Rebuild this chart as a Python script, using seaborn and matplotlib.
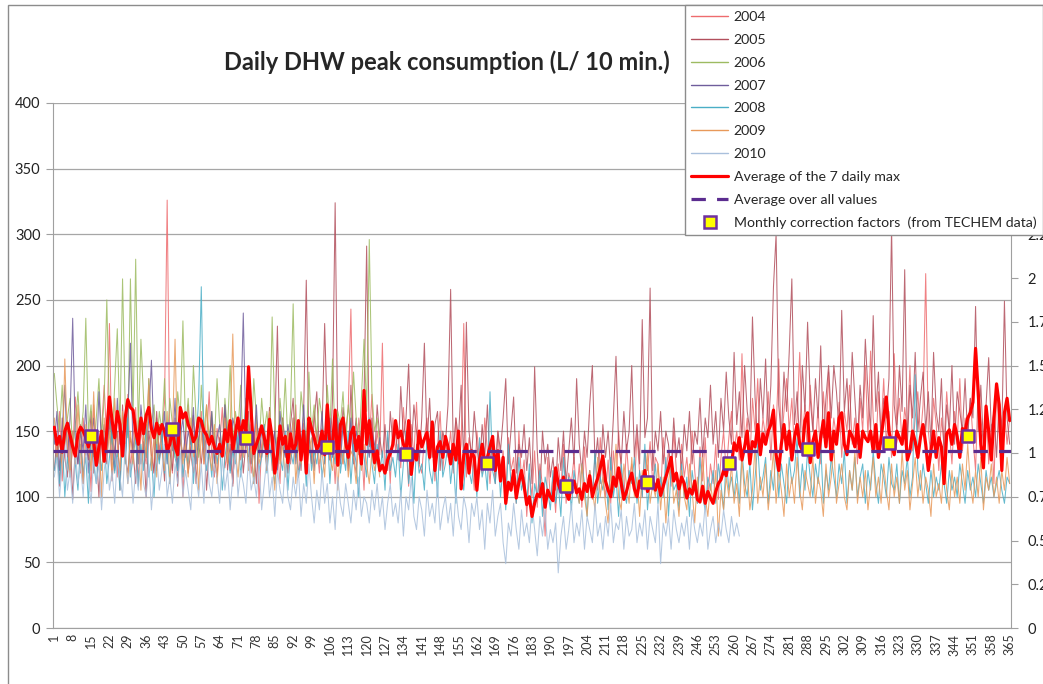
import numpy as np
import pandas as pd
import matplotlib
matplotlib.use("Agg")
import matplotlib.pyplot as plt
import seaborn as sns
from matplotlib.lines import Line2D
from matplotlib.patches import Rectangle
from matplotlib.ticker import FuncFormatter

sns.set_style("white")
plt.rcParams['font.family'] = ['Lato', 'DejaVu Sans']

# Daily peak values (L / 10 min) (estimates)
y2004 = [150, 128, 165, 112, 140, 158, 120, 135, 176, 142,
         118, 160, 132, 145, 104, 170, 138, 125, 150, 185,
         140, 232, 128, 150, 115, 162, 140, 130, 178, 120,
         145, 168, 110, 152, 136, 125, 190, 142, 118, 160,
         135, 150, 172, 326, 140, 118, 155, 128, 162, 100,
         145, 170, 132, 118, 150, 138, 165, 125, 142, 180,
         130, 115, 152, 140, 168, 122, 135, 158, 110, 145,
         160, 128, 140, 175, 150, 118, 135, 162, 95, 140,
         155, 130, 168, 120, 145, 138, 110, 160, 132, 150,
         125, 142, 170, 115, 138, 156, 120, 148, 130, 165,
         140, 118, 152, 135, 172, 128, 145, 110, 158, 138,
         125, 150, 168, 243, 130, 118, 160, 142, 105, 155,
         140, 178, 125, 150, 132, 217, 120, 145, 110, 160,
         135, 150, 122, 168, 140, 108, 155, 130, 172, 125,
         118, 145, 160, 128, 150, 112, 138, 165, 120, 142,
         130, 150, 118, 160, 125, 140, 232, 115, 145, 132,
         105, 150, 128, 118, 160, 135, 110, 142, 125, 150,
         118, 135, 102, 145, 120, 130, 95, 150, 112, 128,
         85, 118, 100, 135, 92, 125, 108, 70, 130, 98,
         115, 88, 125, 105, 140, 95, 118, 110, 130, 100,
         125, 92, 138, 110, 120, 98, 132, 105, 145, 115,
         100, 128, 95, 135, 110, 150, 120, 98, 140, 112,
         125, 105, 148, 118, 100, 135, 120, 142, 110, 130,
         125, 100, 145, 118, 135, 108, 150, 120, 98, 140,
         115, 130, 105, 150, 120, 95, 138, 112, 145, 100,
         125, 110, 140, 98, 130, 150, 118, 145, 165, 135,
         150, 128, 209, 140, 160, 125, 175, 150, 190, 135,
         160, 145, 180, 128, 170, 150, 205, 140, 165, 190,
         150, 175, 135, 160, 210, 145, 170, 130, 185, 155,
         140, 168, 125, 180, 150, 195, 138, 160, 145, 172,
         130, 165, 150, 185, 140, 160, 125, 175, 150, 200,
         145, 211, 160, 135, 180, 150, 190, 140, 165, 130,
         209, 155, 175, 140, 168, 150, 200, 135, 160, 180,
         145, 170, 270, 150, 130, 175, 155, 120, 160, 140,
         180, 150, 125, 165, 140, 190, 135, 160, 150, 175,
         145, 120, 185, 160, 140, 170, 125, 155, 110, 180,
         150, 135, 165, 140, 160]

y2005 = [120, 145, 108, 160, 130, 115, 150, 98, 138, 125,
         155, 110, 140, 128, 165, 118, 135, 100, 150, 142,
         125, 160, 112, 138, 150, 105, 170, 130, 118, 145,
         135, 110, 158, 125, 142, 100, 150, 132, 118, 165,
         128, 140, 112, 155, 135, 120, 160, 108, 145, 130,
         150, 118, 135, 162, 110, 140, 125, 150, 105, 138,
         160, 128, 115, 145, 132, 170, 120, 140, 108, 155,
         135, 150, 118, 142, 165, 125, 138, 110, 152, 130,
         145, 120, 168, 135, 150, 230, 128, 160, 140, 118,
         155, 175, 130, 148, 120, 165, 265, 140, 125, 158,
         180, 135, 150, 232, 160, 128, 175, 324, 145, 130,
         168, 150, 120, 185, 140, 160, 132, 150, 175, 291,
         138, 160, 125, 170, 145, 130, 155, 120, 165, 140,
         150, 128, 184, 145, 160, 201, 135, 170, 150, 125,
         160, 217, 140, 175, 130, 155, 165, 120, 150, 140,
         170, 258, 135, 160, 145, 185, 125, 233, 150, 130,
         165, 140, 118, 155, 130, 170, 125, 145, 110, 150,
         135, 160, 190, 125, 150, 176, 118, 140, 130, 155,
         120, 145, 110, 199, 135, 100, 150, 125, 140, 115,
         130, 105, 145, 120, 150, 110, 135, 160, 125, 190,
         140, 118, 150, 130, 170, 200, 125, 145, 110, 155,
         130, 150, 120, 160, 207, 140, 125, 165, 135, 150,
         200, 130, 155, 125, 235, 145, 160, 259, 120, 150,
         135, 165, 125, 150, 140, 118, 160, 130, 145, 120,
         155, 135, 165, 125, 150, 140, 175, 130, 160, 145,
         185, 140, 165, 130, 175, 150, 195, 160, 140, 210,
         155, 180, 145, 200, 165, 150, 237, 175, 140, 190,
         160, 205, 150, 185, 260, 300, 170, 145, 195, 165,
         210, 266, 155, 180, 140, 200, 165, 233, 175, 150,
         190, 160, 215, 145, 175, 200, 160, 200, 180, 150,
         242, 165, 190, 150, 210, 175, 140, 185, 160, 220,
         180, 150, 238, 165, 195, 140, 175, 160, 190, 305,
         170, 150, 200, 165, 273, 140, 185, 160, 210, 150,
         175, 195, 150, 180, 140, 210, 165, 150, 190, 130,
         170, 150, 200, 140, 180, 165, 150, 190, 145, 175,
         160, 245, 150, 185, 140, 170, 206, 150, 165, 130,
         175, 150, 249, 160, 140]

y2006 = [194, 170, 150, 185, 140, 160, 175, 135, 155, 180,
         145, 165, 236, 150, 170, 130, 160, 190, 145, 175,
         250, 160, 140, 185, 228, 150, 266, 170, 145, 266,
         160, 281, 150, 220, 175, 140, 190, 155, 170, 135,
         165, 150, 190, 140, 175, 155, 130, 180, 160, 234,
         150, 175, 140, 200, 160, 130, 185, 150, 170, 145,
         165, 140, 190, 155, 130, 175, 150, 200, 140, 165,
         150, 185, 135, 170, 155, 140, 190, 160, 135, 175,
         150, 165, 140, 237, 160, 130, 175, 150, 190, 140,
         165, 247, 150, 135, 180, 160, 140, 195, 150, 170,
         145, 175, 160, 130, 185, 150, 205, 140, 165, 155,
         180, 140, 170, 150, 195, 160, 135, 175, 220, 165,
         296, 180, 150, 160, 140]

y2007 = [140, 165, 120, 150, 185, 130, 160, 236, 145, 125,
         150, 135, 170, 118, 145, 160, 125, 180, 140, 155,
         130, 165, 145, 120, 175, 140, 150, 128, 160, 217,
         135, 150, 125, 170, 145, 130, 160, 204, 140, 120,
         155, 140, 165, 125, 150, 135, 175, 120, 145, 160,
         130, 150, 140, 168, 125, 145, 160, 130, 150, 138,
         165, 125, 145, 155, 130, 170, 140, 120, 160, 150,
         135, 160, 240, 145, 125, 155, 140, 170, 130, 150,
         145, 125, 160, 135, 150, 120, 165, 140, 130, 155,
         140, 160, 125, 150, 135, 170, 130, 145, 155, 120,
         150, 135, 165, 125, 145, 160, 130, 150, 140, 125,
         155, 140, 130, 160, 125, 150, 140, 135, 160, 145,
         130, 150, 140, 125, 145]

y2008 = [120, 135, 110, 145, 100, 130, 115, 150, 125, 105,
         140, 118, 130, 95, 150, 125, 110, 138, 120, 145,
         110, 130, 150, 118, 135, 105, 145, 125, 160, 115,
         130, 145, 108, 140, 120, 155, 115, 130, 100, 140,
         125, 150, 118, 135, 110, 145, 130, 120, 160, 115,
         135, 125, 150, 110, 140, 175, 260, 140, 120, 135,
         115, 150, 125, 140, 105, 130, 145, 118, 135, 125,
         150, 115, 140, 175, 125, 135, 110, 145, 120, 130,
         155, 118, 140, 125, 110, 145, 130, 120, 150, 105,
         135, 125, 145, 115, 130, 140, 108, 150, 120, 135,
         125, 145, 115, 130, 150, 110, 140, 125, 160, 118,
         135, 120, 150, 110, 140, 125, 100, 145, 130, 115,
         160, 125, 110, 140, 118, 135, 105, 150, 120, 130,
         115, 140, 100, 125, 150, 110, 130, 95, 140, 118,
         125, 105, 145, 120, 110, 135, 100, 150, 115, 125,
         140, 110, 130, 95, 145, 118, 105, 135, 120, 110,
         130, 100, 145, 115, 125, 105, 180, 120, 110, 135,
         100, 125, 90, 140, 110, 120, 95, 130, 105, 115,
         95, 125, 80, 110, 100, 120, 85, 115, 105, 90,
         120, 95, 110, 85, 130, 100, 115, 90, 120, 105,
         95, 125, 110, 85, 120, 100, 135, 95, 115, 105,
         120, 90, 130, 100, 115, 85, 125, 105, 95, 120,
         110, 130, 95, 120, 100, 140, 90, 115, 105, 125,
         95, 115, 100, 130, 85, 120, 105, 110, 90, 125,
         100, 115, 85, 120, 105, 95, 130, 100, 90, 115,
         105, 120, 95, 125, 110, 90, 130, 105, 115, 100,
         120, 95, 135, 110, 100, 125, 90, 115, 140, 105,
         115, 130, 95, 120, 105, 140, 100, 125, 110, 95,
         130, 110, 120, 145, 100, 125, 105, 135, 115, 100,
         125, 110, 140, 95, 120, 105, 130, 115, 100, 125,
         110, 135, 95, 120, 105, 130, 100, 115, 125, 95,
         120, 105, 135, 110, 95, 125, 115, 100, 130, 110,
         105, 125, 95, 120, 110, 130, 100, 115, 193, 120,
         105, 125, 110, 95, 120, 100, 115, 105, 125, 110,
         95, 120, 105, 115, 100, 125, 110, 95, 120, 105,
         115, 100, 125, 110, 95, 120, 105, 115, 100, 110,
         120, 105, 95, 115, 110]

# 2009 has two recorded stretches: days 1-125 and days 200-365
y2009_start = [160, 130, 145, 120, 205, 140, 115, 150, 125, 170,
               135, 110, 155, 140, 120, 180, 125, 145, 100, 160,
               130, 150, 115, 175, 140, 120, 165, 135, 110, 150,
               125, 160, 140, 105, 150, 130, 185, 120, 145, 115,
               155, 135, 120, 165, 110, 145, 220, 130, 150, 125,
               140, 115, 160, 130, 145, 105, 150, 125, 170, 135,
               120, 155, 110, 140, 130, 160, 125, 150, 224, 135,
               115, 145, 130, 160, 120, 140, 110, 155, 125, 135,
               150, 120, 165, 130, 105, 145, 125, 140, 115, 150,
               130, 160, 110, 140, 125, 150, 120, 135, 145, 110,
               150, 125, 135, 115, 160, 130, 120, 145, 105, 140,
               125, 150, 115, 135, 130, 110, 145, 120, 140, 125,
               110, 135, 120, 130, 115]
y2009_end = [110, 95, 125, 100, 85, 120, 105, 90, 130, 100,
             115, 95, 80, 120, 105, 140, 100, 90, 125, 110,
             95, 130, 100, 115, 85, 120, 105, 135, 95, 110,
             100, 125, 90, 115, 80, 110, 130, 95, 105, 85,
             120, 100, 90, 125, 105, 80, 115, 95, 130, 100,
             85, 110, 95, 120, 70, 105, 90, 115, 100, 125,
             95, 110, 85, 130, 100, 120, 90, 105, 140, 95,
             115, 100, 125, 90, 110, 135, 95, 120, 105, 85,
             125, 100, 115, 95, 130, 105, 90, 120, 110, 100,
             130, 95, 115, 105, 85, 125, 100, 115, 140, 95,
             110, 125, 100, 90, 120, 105, 135, 95, 115, 100,
             120, 90, 110, 130, 100, 115, 95, 125, 105, 90,
             125, 100, 115, 95, 135, 105, 120, 90, 110, 130,
             100, 120, 95, 115, 105, 85, 125, 100, 110, 95,
             130, 105, 90, 120, 100, 115, 95, 125, 105, 140,
             110, 95, 120, 100, 130, 90, 115, 105, 125, 100,
             115, 95, 120, 105, 130, 110]

y2010 = [115, 130, 100, 125, 140, 105, 120, 95, 135, 110,
         125, 100, 140, 115, 95, 130, 110, 125, 90, 120,
         135, 105, 120, 95, 130, 115, 100, 140, 110, 125,
         95, 120, 105, 135, 110, 100, 125, 90, 115, 130,
         105, 120, 140, 100, 115, 95, 125, 110, 135, 100,
         120, 105, 90, 130, 115, 100, 125, 95, 140, 110,
         100, 125, 115, 95, 130, 105, 120, 90, 115, 135,
         100, 120, 110, 95, 130, 105, 115, 100, 125, 90,
         110, 130, 100, 115, 85, 120, 105, 95, 125, 100,
         90, 115, 100, 120, 85, 110, 95, 125, 100, 80,
         105, 90, 120, 95, 110, 80, 100, 75, 115, 95,
         85, 110, 95, 80, 105, 90, 115, 85, 100, 95,
         80, 105, 90, 110, 85, 100, 75, 95, 110, 85,
         95, 80, 105, 70, 100, 90, 115, 85, 75, 100,
         90, 70, 105, 85, 95, 80, 110, 75, 90, 100,
         80, 95, 70, 105, 85, 75, 100, 90, 65, 95,
         85, 100, 75, 90, 60, 95, 80, 105, 70, 85,
         95, 65, 49, 80, 70, 95, 75, 60, 90, 70,
         80, 65, 95, 75, 55, 85, 70, 90, 60, 75,
         65, 80, 42, 70, 85, 60, 75, 95, 65, 80,
         70, 90, 60, 85, 75, 65, 95, 70, 80, 60,
         85, 70, 95, 65, 80, 75, 90, 60, 85, 70,
         75, 95, 65, 80, 70, 90, 60, 85, 75, 65,
         95, 49, 80, 70, 85, 60, 90, 75, 65, 80,
         70, 85, 60, 90, 75, 65, 80, 70, 95, 60,
         75, 85, 65, 80, 70, 90, 75, 65, 85, 70,
         80, 70]

avg_daily_max = [153, 140, 146, 134, 150, 156, 147, 138, 131, 148,
                 153, 150, 145, 138, 146, 142, 124, 138, 150, 127,
                 150, 176, 158, 145, 165, 155, 131, 160, 174, 168,
                 166, 150, 140, 160, 148, 162, 168, 152, 145, 156,
                 148, 155, 150, 135, 140, 151, 138, 132, 168, 160,
                 164, 155, 150, 142, 146, 160, 158, 150, 147, 140,
                 146, 138, 133, 140, 131, 151, 142, 158, 136, 148,
                 160, 145, 158, 150, 199, 165, 133, 140, 146, 154,
                 145, 133, 159, 145, 118, 132, 154, 140, 146, 126,
                 148, 135, 140, 158, 128, 150, 118, 160, 152, 145,
                 136, 140, 150, 132, 170, 138, 140, 166, 124, 155,
                 160, 142, 130, 148, 153, 135, 146, 125, 181, 140,
                 158, 143, 126, 135, 120, 124, 118, 128, 133, 140,
                 158, 145, 150, 140, 135, 158, 117, 135, 128, 150,
                 138, 144, 149, 130, 157, 120, 138, 142, 130, 146,
                 138, 125, 140, 128, 150, 106, 132, 140, 118, 135,
                 130, 105, 128, 140, 125, 130, 138, 146, 120, 135,
                 112, 130, 95, 111, 105, 120, 99, 111, 120, 108,
                 94, 100, 85, 95, 102, 100, 110, 92, 105, 100,
                 97, 122, 110, 104, 115, 103, 98, 108, 112, 103,
                 106, 98, 110, 104, 116, 100, 108, 114, 122, 131,
                 112, 105, 100, 115, 108, 122, 110, 98, 104, 112,
                 118, 106, 100, 112, 108, 120, 104, 110, 113, 105,
                 113, 101, 108, 115, 122, 130, 112, 118, 106, 115,
                 110, 99, 106, 102, 112, 98, 96, 108, 95, 104,
                 99, 95, 104, 110, 113, 120, 116, 128, 124, 141,
                 135, 145, 128, 138, 150, 125, 142, 138, 155, 132,
                 148, 140, 150, 155, 166, 132, 120, 140, 155, 136,
                 150, 128, 145, 155, 140, 135, 158, 164, 126, 142,
                 150, 130, 145, 158, 138, 164, 128, 150, 140, 160,
                 164, 140, 132, 150, 146, 138, 155, 130, 150, 145,
                 142, 150, 135, 155, 130, 145, 160, 176, 150, 140,
                 132, 150, 145, 140, 158, 128, 135, 150, 142, 130,
                 145, 155, 140, 120, 135, 150, 130, 145, 138, 110,
                 148, 151, 140, 155, 146, 130, 152, 150, 160, 164,
                 172, 213, 180, 140, 122, 169, 150, 128, 160, 186,
                 170, 120, 164, 175, 158]

overall_average = 135

# Monthly correction factors (right axis), placed mid-month
factor_days = [15, 46, 74, 105, 135, 166, 196, 227, 258, 288, 319, 349]
factors = [1.097, 1.139, 1.087, 1.036, 0.992, 0.941,
           0.811, 0.833, 0.941, 1.021, 1.055, 1.097]

year_series = [
    ('2004', [(1, y2004)], '#ee6b6e'),
    ('2005', [(1, y2005)], '#b24f5c'),
    ('2006', [(1, y2006)], '#9dbb61'),
    ('2007', [(1, y2007)], '#6f5d9c'),
    ('2008', [(1, y2008)], '#4aaec6'),
    ('2009', [(1, y2009_start), (200, y2009_end)], '#e8995a'),
    ('2010', [(1, y2010)], '#a9c0dc'),
]


def frame(first_day, values):
    return pd.DataFrame({'day': np.arange(first_day, first_day + len(values)),
                         'value': values})


fig = plt.figure(figsize=(10.43, 6.84), dpi=100)
ax = fig.add_axes([53 / 1043, 56 / 684, 958 / 1043, 525 / 684])

# outer chart border
fig.patches.append(Rectangle((8 / 1043, -0.05), 1.2, 1.05 - 5 / 684,
                             transform=fig.transFigure, fill=False,
                             edgecolor='#8c8c8c', linewidth=1.0))

for label, parts, color in year_series:
    for first_day, values in parts:
        sns.lineplot(data=frame(first_day, values), x='day', y='value',
                     color=color, linewidth=0.75, alpha=0.85,
                     estimator=None, ax=ax, zorder=2)

sns.lineplot(data=frame(1, avg_daily_max), x='day', y='value',
             color='#ff0000', linewidth=2.3, estimator=None, ax=ax, zorder=3)
ax.axhline(overall_average, color='#5b2c8f', linewidth=2.3,
           dashes=(4.5, 3.5), zorder=4)

ax.set_xlim(0.5, 365.5)
ax.set_ylim(0, 400)
ax.set_yticks(np.arange(0, 401, 50))
ax.set_xticks(np.arange(0.5, 366, 7))
ax.set_xticklabels([])
ax.set_xticks(np.arange(1, 366, 7), minor=True)
ax.set_xticklabels([str(d) for d in range(1, 366, 7)], minor=True,
                   rotation=90, fontsize=9, color='#333333')
ax.tick_params(axis='x', which='major', length=5, color='#a0a0a0', direction='out')
ax.tick_params(axis='x', which='minor', length=0, pad=4)
ax.tick_params(axis='y', length=5, color='#a0a0a0', direction='out',
               labelsize=10.5, labelcolor='#222222', pad=4)
ax.grid(axis='y', color='#a6a6a6', linewidth=0.9)
ax.set_axisbelow(True)
ax.set_xlabel('')
ax.set_ylabel('')
for side in ['top', 'right']:
    ax.spines[side].set_visible(False)
for side in ['left', 'bottom']:
    ax.spines[side].set_color('#a0a0a0')

ax2 = ax.twinx()
corr = pd.DataFrame({'day': factor_days, 'factor': factors})
sns.scatterplot(data=corr, x='day', y='factor', marker='s', s=80,
                color='#ffff00', edgecolor='#7030a0', linewidth=1.8,
                ax=ax2, zorder=5)
ax2.set_ylim(0, 3)
ax2.set_yticks(np.arange(0, 3.01, 0.25))
ax2.yaxis.set_major_formatter(FuncFormatter(lambda v, p: f'{v:g}'))
ax2.tick_params(axis='y', length=5, color='#a0a0a0', direction='out',
                labelsize=10.5, labelcolor='#222222', pad=7)
ax2.set_ylabel('')
ax2.grid(False)
for side in ['top', 'left', 'bottom']:
    ax2.spines[side].set_visible(False)
ax2.spines['right'].set_color('#a0a0a0')

fig.text(447 / 1043, 1 - 62 / 684, 'Daily DHW peak consumption (L/ 10 min.)',
         ha='center', va='center', fontsize=17, fontweight='bold')

handles = [Line2D([], [], color=c, linewidth=1.0) for _, _, c in year_series]
labels = [lab for lab, _, _ in year_series]
handles += [
    Line2D([], [], color='#ff0000', linewidth=2.3),
    Line2D([], [], color='#5b2c8f', linewidth=2.3, dashes=(4.5, 3.5)),
    Line2D([], [], linestyle='none', marker='s', markersize=8,
           markerfacecolor='#ffff00', markeredgecolor='#7030a0', markeredgewidth=1.8),
]
labels += ['Average of the 7 daily max', 'Average over all values',
           'Monthly correction factors  (from TECHEM data)']
leg = fig.legend(handles, labels, loc='upper left',
                 bbox_to_anchor=(685 / 1043, 1 - 5 / 684), fontsize=10.2,
                 frameon=True, fancybox=False, framealpha=1, edgecolor='#8c8c8c',
                 handlelength=2.6, handletextpad=0.4, labelspacing=0.76,
                 borderpad=0.45, borderaxespad=0)
leg.get_frame().set_linewidth(1.0)

fig.savefig('out.png', dpi=100)
